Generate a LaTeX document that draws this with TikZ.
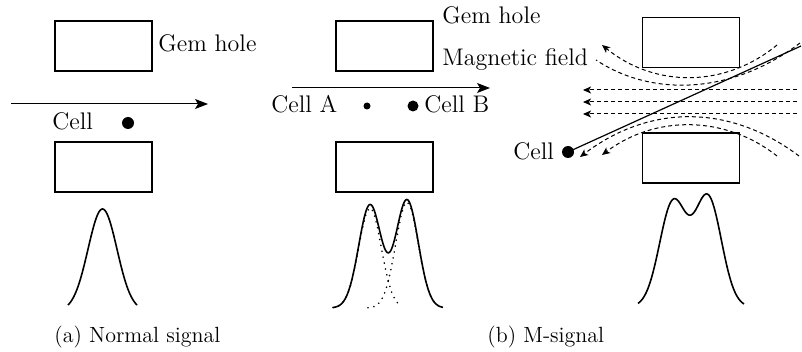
\documentclass[tikz,border=0pt]{standalone}
\usetikzlibrary{arrows.meta}
\begin{document}
\begin{tikzpicture}[x=0.5pt,y=-0.5pt,
  gembox/.style={draw,line width=0.85pt,minimum width=48.5pt,minimum height=25pt,inner sep=0pt},
  lbl/.style={font=\large,inner sep=0pt,anchor=base west},
  capt/.style={font=\fontsize{11}{13}\selectfont,inner sep=0pt,anchor=base west},
  dot/.style={circle,fill,inner sep=0pt,minimum size=#1},dot/.default=6pt,
  move/.style={line width=0.5pt,-{Stealth[length=6.5pt,width=5pt,inset=1.5pt]}},
  field/.style={line width=0.5pt,dash pattern=on 2pt off 1.5pt,-{Stealth[length=4pt,width=3.5pt,inset=1pt]}},
  signal/.style={line width=0.8pt},
  part/.style={line width=0.9pt,dash pattern=on 0pt off 3pt,line cap=round}]
\useasboundingbox (0,0) rectangle (802,352);
% (a) normal signal
\node[gembox] (topa) at (103.5,46) {};
\node[gembox] (bota) at (103.5,167) {};
\node[lbl] (gema) at (158,52) {Gem hole};
\coordinate (ina) at (11,104);
\coordinate (outa) at (208,104);
\draw[move] (ina) -- (outa);
\node[lbl] (cellal) at (52,130) {Cell};
\node[dot] (cella) at (128,123) {};
\draw[signal] plot[domain=68:137,samples=70] (\x,{311-102*exp(-((\x-102.5)^2)/420)});
\node[capt] (capa) at (54,342) {(a) Normal signal};
% (b) two cells
\node[gembox] (topb) at (384.5,46) {};
\node[gembox] (botb) at (384.5,167) {};
\node[lbl] (gemb) at (442,24) {Gem hole};
\node[lbl] (magb) at (442,66) {Magnetic field};
\coordinate (inb) at (292,88);
\coordinate (outb) at (490,88);
\draw[move] (inb) -- (outb);
\node[lbl] (cellAl) at (271,113) {Cell A};
\node[dot=3.5pt] (cellA) at (367,106) {};
\node[dot=5.5pt] (cellB) at (413,106) {};
\node[lbl] (cellBl) at (424,113) {Cell B};
\draw[signal] plot[domain=333:443,samples=110] (\x,{308-103*exp(-((\x-370)^2)/255)-108*exp(-((\x-407)^2)/255)});
\draw[part] plot[domain=333:400,samples=25] (\x,{308-100*exp(-((\x-370)^2)/255)});
\draw[part] plot[domain=368:443,samples=28] (\x,{308-106*exp(-((\x-407)^2)/255)});
\node[capt] (capb) at (487,342) {(b) M-signal};
% (c) cell crossing the field
\node[gembox] (topc) at (691,42.5) {};
\node[gembox] (botc) at (691,158) {};
\node[lbl] (cellcl) at (513,160) {Cell};
\node[dot] (cellc) at (568,152) {};
\coordinate (endc) at (801,46);
\draw[line width=0.6pt] (cellc.center) -- (endc);
\foreach \yy in {90,102,114}
  \draw[field] (797,\yy) -- (583,\yy);
\draw[field] (777,45) .. controls (725,88) and (655,88) .. (602,45);
\draw[field,-] (800,43) .. controls (730,96) and (650,96) .. (596,60);
\draw[field] (799,156) .. controls (730,104) and (650,104) .. (580,157);
\draw[field] (777,156) .. controls (725,115) and (655,115) .. (602,155);
\draw[signal] plot[domain=638:744,samples=110] (\x,{307-104*exp(-((\x-673)^2)/364)-109*exp(-((\x-708)^2)/364)});
\end{tikzpicture}
\end{document}
